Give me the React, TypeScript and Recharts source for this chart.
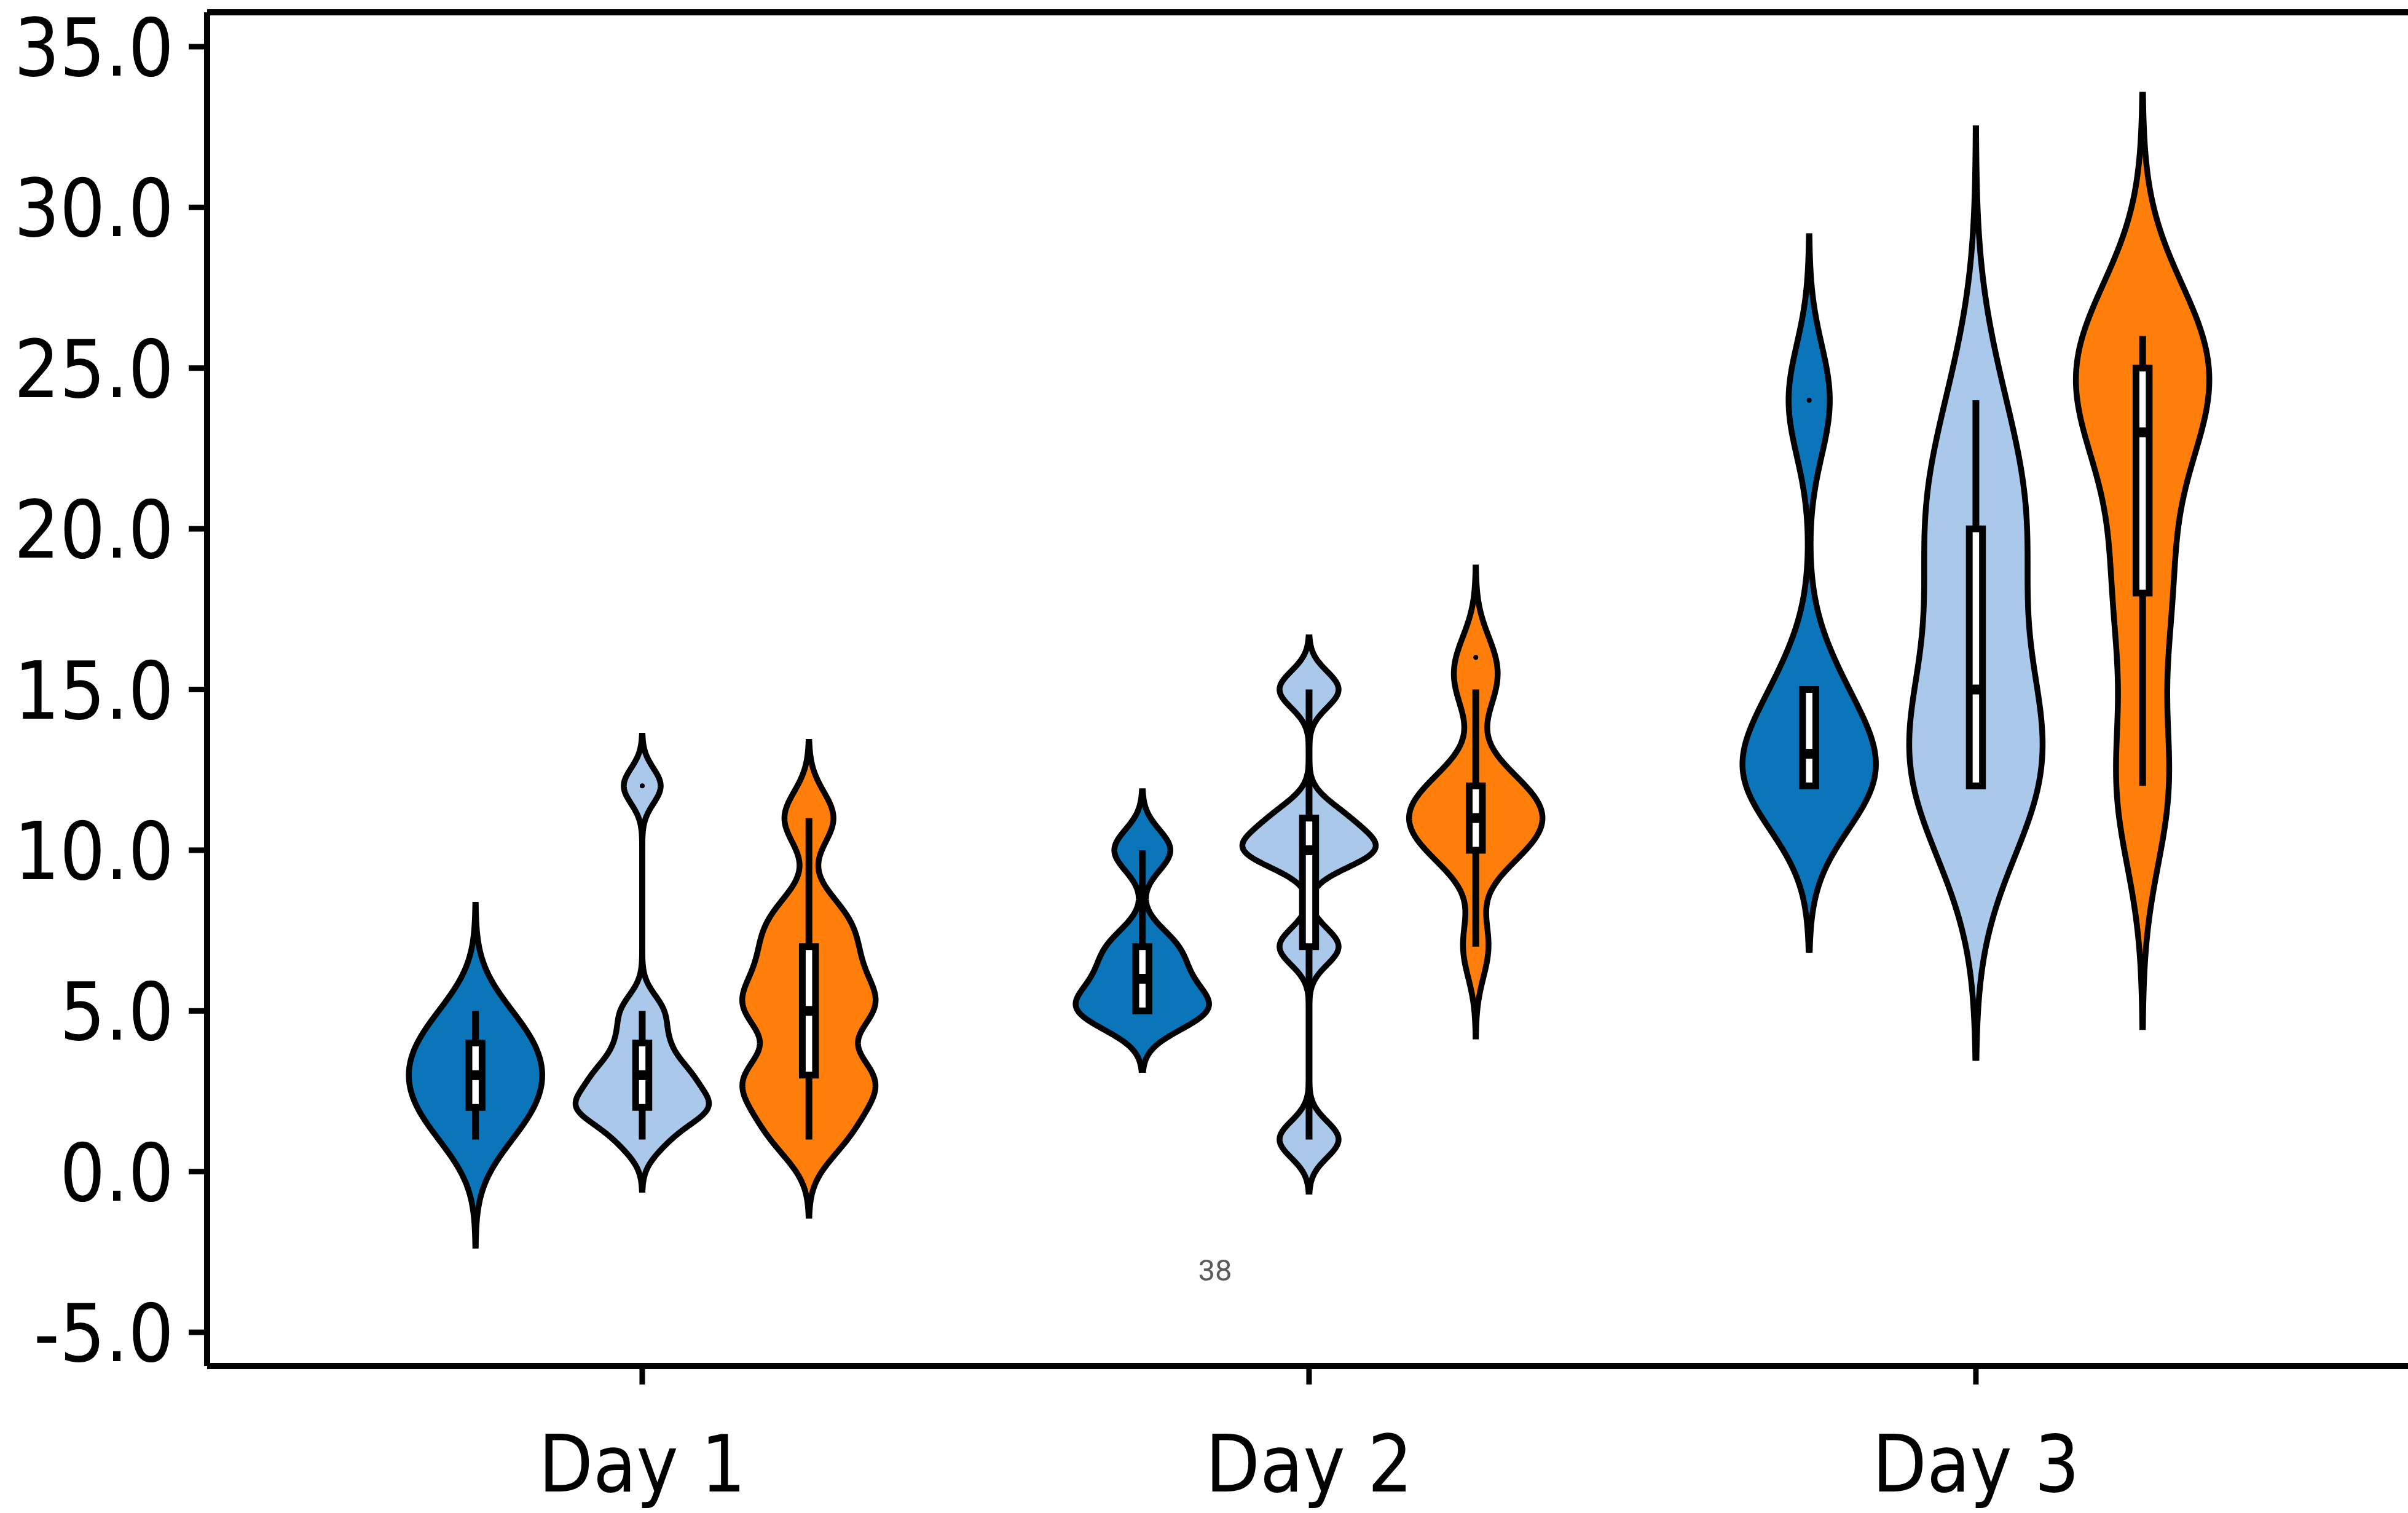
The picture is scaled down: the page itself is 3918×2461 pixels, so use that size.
import React from 'react';
import {
  ComposedChart,
  Area,
  XAxis,
  YAxis,
  ReferenceLine,
  ReferenceArea,
  ReferenceDot,
} from 'recharts';

const W = 3918;
const H = 2461;

const DAYS = ['Day 1', 'Day 2', 'Day 3'];
const GROUP_COLORS = ['#0a75b9', '#a9c8ea', '#ff7f0a'];
const GROUP_OFFSETS = [-0.25, 0, 0.25];
const Y_TICKS = [-5, 0, 5, 10, 15, 20, 25, 30, 35];

// raw observations, one array per day and group
const DAY1_DARK = [1, 2, 2, 3, 3, 4, 4, 5];
const DAY1_LIGHT = [1, 2, 2, 2, 3, 3, 4, 5, 12];
const DAY1_ORANGE = [1, 2, 3, 3, 5, 5, 6, 7, 8, 11];
const DAY2_DARK = [5, 5, 6, 7, 10];
const DAY2_LIGHT = [1, 7, 10, 10, 11, 15];
const DAY2_ORANGE = [7, 10, 10, 11, 11, 11, 12, 12, 15, 16];
const DAY3_DARK = [12, 12, 13, 15, 24];
const DAY3_LIGHT = [12, 12, 12, 14, 15, 19, 20, 21, 24];
const DAY3_ORANGE = [12, 18, 23, 25, 26];

// kernel bandwidth used for each violin
const BANDWIDTHS = [
  [1.13, 0.55, 0.82],
  [0.64, 0.57, 0.96],
  [1.73, 2.85, 2.53],
];

const OBSERVATIONS = [
  [DAY1_DARK, DAY1_LIGHT, DAY1_ORANGE],
  [DAY2_DARK, DAY2_LIGHT, DAY2_ORANGE],
  [DAY3_DARK, DAY3_LIGHT, DAY3_ORANGE],
];

const X_MIN = -0.6525;
const X_MAX = 2.648;
const Y_MIN = -6.05;
const Y_MAX = 36.07;

const CUT = 3;
const STEP = 0.02;
const HALF_WIDTH = 0.1;
const BOX_HALF = 0.0099;

const FONT = "'DejaVu Sans', sans-serif";

const kde = (obs: number[], bw: number, v: number) =>
  obs.reduce((s, o) => s + Math.exp(-0.5 * ((v - o) / bw) ** 2), 0);

const median = (s: number[]) => {
  const n = s.length;
  return n % 2 ? s[(n - 1) / 2] : (s[n / 2 - 1] + s[n / 2]) / 2;
};

// Tukey hinges + 1.5 IQR whiskers
const boxStats = (obs: number[]) => {
  const s = [...obs].sort((a, b) => a - b);
  const n = s.length;
  const h = Math.ceil(n / 2);
  const q1 = median(s.slice(0, h));
  const q3 = median(s.slice(n - h));
  const iqr = q3 - q1;
  const inside = s.filter((x) => x >= q1 - 1.5 * iqr && x <= q3 + 1.5 * iqr);
  return {
    q1,
    q3,
    med: median(s),
    lo: inside[0],
    hi: inside[inside.length - 1],
    outliers: s.filter((x) => x < inside[0] || x > inside[inside.length - 1]),
  };
};

const violins = DAYS.flatMap((_, d) =>
  OBSERVATIONS[d].map((obs, g) => {
    const bw = BANDWIDTHS[d][g];
    const lo = Math.min(...obs) - CUT * bw;
    const hi = Math.max(...obs) + CUT * bw;
    let peak = 0;
    for (let i = 0; lo + i * 0.005 <= hi; i++) peak = Math.max(peak, kde(obs, bw, lo + i * 0.005));
    return {
      key: `v${d}${g}`,
      pos: d + GROUP_OFFSETS[g],
      color: GROUP_COLORS[g],
      obs,
      bw,
      lo,
      hi,
      peak,
      stats: boxStats(obs),
    };
  })
);

// one shared grid of values; every violin gets a [left, right] range per row
const gridLo = Math.floor(Math.min(...violins.map((v) => v.lo)));
const gridHi = Math.ceil(Math.max(...violins.map((v) => v.hi)));
const gridValues = new Set<number>();
for (let i = 0; gridLo + i * STEP <= gridHi; i++) gridValues.add(+(gridLo + i * STEP).toFixed(4));
violins.forEach((vl) => {
  gridValues.add(vl.lo);
  gridValues.add(vl.hi);
});

const rows = [...gridValues]
  .sort((a, b) => a - b)
  .map((v) => {
    const row: Record<string, any> = { v };
    violins.forEach((vl) => {
      if (v < vl.lo - 1e-9 || v > vl.hi + 1e-9) {
        row[vl.key] = [null, null];
      } else {
        const w = (kde(vl.obs, vl.bw, v) / vl.peak) * HALF_WIDTH;
        row[vl.key] = [vl.pos - w, vl.pos + w];
      }
    });
    return row;
  });

const YTick = ({ x, y, payload }: any) => (
  <text
    x={x}
    y={y}
    dy={47}
    textAnchor="end"
    fontFamily={FONT}
    fontSize={130}
    style={{ fontStretch: 'condensed' }}
    fill="#000"
  >
    {Number(payload.value).toFixed(1)}
  </text>
);

const XTick = ({ x, y, payload }: any) => (
  <text
    x={x}
    y={y}
    dy={164}
    textAnchor="middle"
    fontFamily={FONT}
    fontSize={128}
    style={{ fontStretch: 'condensed' }}
    fill="#000"
  >
    {DAYS[payload.value]}
  </text>
);

export default function App() {
  return (
    <div
      style={{
        position: 'absolute',
        left: 0,
        top: 0,
        width: W,
        height: H,
        background: '#fff',
        overflow: 'hidden',
      }}
    >
      <ComposedChart
        width={W}
        height={H}
        data={rows}
        layout="vertical"
        margin={{ top: 20, right: 0, bottom: 0, left: 0 }}
      >
        <XAxis
          type="number"
          domain={[X_MIN, X_MAX]}
          allowDataOverflow
          ticks={[0, 1, 2]}
          height={239}
          tickSize={30}
          tickMargin={10}
          axisLine={{ stroke: '#000', strokeWidth: 10 }}
          tickLine={{ stroke: '#000', strokeWidth: 9 }}
          tick={<XTick />}
        />
        <YAxis
          type="number"
          dataKey="v"
          domain={[Y_MIN, Y_MAX]}
          allowDataOverflow
          reversed
          ticks={Y_TICKS}
          width={337}
          tickSize={30}
          tickMargin={24}
          axisLine={{ stroke: '#000', strokeWidth: 10 }}
          tickLine={{ stroke: '#000', strokeWidth: 9 }}
          tick={<YTick />}
        />
        <ReferenceLine y={Y_MAX} stroke="#000" strokeWidth={10} ifOverflow="visible" />

        {violins.map((vl) => (
          <Area
            key={vl.key}
            dataKey={vl.key}
            type="linear"
            fill={vl.color}
            fillOpacity={1}
            stroke="#000"
            strokeWidth={9.5}
            strokeLinejoin="round"
            dot={false}
            activeDot={false}
            isAnimationActive={false}
            zIndex={100}
          />
        ))}

        {violins.map((vl) => (
          <ReferenceLine
            key={`w${vl.key}`}
            segment={[
              { x: vl.pos, y: vl.stats.lo },
              { x: vl.pos, y: vl.stats.hi },
            ]}
            stroke="#000"
            strokeWidth={11}
            ifOverflow="visible"
            zIndex={410}
          />
        ))}

        {violins.map((vl) => (
          <ReferenceArea
            key={`b${vl.key}`}
            x1={vl.pos - BOX_HALF}
            x2={vl.pos + BOX_HALF}
            y1={vl.stats.q1}
            y2={vl.stats.q3}
            fill="#fff"
            fillOpacity={1}
            stroke="#000"
            strokeWidth={11}
            ifOverflow="visible"
            zIndex={420}
          />
        ))}

        {violins.map((vl) => (
          <ReferenceLine
            key={`m${vl.key}`}
            segment={[
              { x: vl.pos - BOX_HALF, y: vl.stats.med },
              { x: vl.pos + BOX_HALF, y: vl.stats.med },
            ]}
            stroke="#000"
            strokeWidth={16}
            ifOverflow="visible"
            zIndex={430}
          />
        ))}

        {violins.flatMap((vl) =>
          vl.stats.outliers.map((o, i) => (
            <ReferenceDot
              key={`o${vl.key}${i}`}
              x={vl.pos}
              y={o}
              r={4}
              fill="#000"
              stroke="none"
              ifOverflow="visible"
              zIndex={440}
            />
          ))
        )}
      </ComposedChart>
      <svg
        width={W}
        height={H}
        style={{ position: 'absolute', left: 0, top: 0, pointerEvents: 'none' }}
      >
        <text x={1977} y={2083} textAnchor="middle" fontFamily="Roboto" fontSize={49} fill="#5b5b5b">
          38
        </text>
      </svg>
    </div>
  );
}
